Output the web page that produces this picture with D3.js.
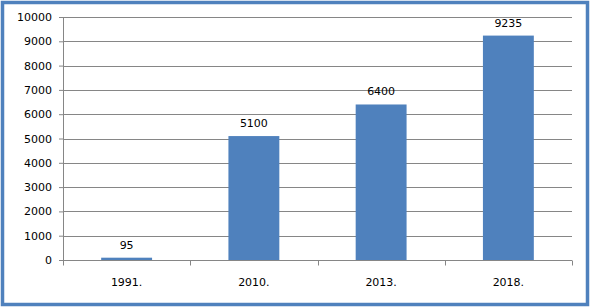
<!DOCTYPE html>
<html>
<head>
<meta charset="utf-8">
<script src="https://cdnjs.cloudflare.com/ajax/libs/d3/7.8.5/d3.min.js"></script>
<style>
  body { margin: 0; background: #fff; }
  text { font-family: "DejaVu Sans", Verdana, sans-serif; font-size: 11px; fill: #000; }
</style>
</head>
<body>
<div id="chart"></div>
<script>
// data
var years = ["1991.", "2010.", "2013.", "2018."];
var values = [95, 5100, 6400, 9235];
var yTicks = [0, 1000, 2000, 3000, 4000, 5000, 6000, 7000, 8000, 9000, 10000];

var svgWidth = 591, svgHeight = 308;
var margin = { top: 17, right: 19, bottom: 48, left: 63 };
var width = svgWidth - margin.left - margin.right;
var height = svgHeight - margin.top - margin.bottom;

var svg = d3.select("#chart")
  .append("svg")
  .attr("width", svgWidth)
  .attr("height", svgHeight);

// blue frame round the chart
svg.append("rect")
  .attr("x", 2.5)
  .attr("y", 2.5)
  .attr("width", 585)
  .attr("height", 302)
  .attr("fill", "none")
  .attr("stroke", "#4F81BD")
  .attr("stroke-width", 3.5);

var chartGroup = svg.append("g")
  .attr("transform", `translate(${margin.left}, ${margin.top})`);

var x = d3.scaleBand()
  .domain(years)
  .range([0, width])
  .paddingInner(0.6)
  .paddingOuter(0.3);

var y = d3.scaleLinear()
  .domain([0, 10000])
  .range([height, 0]);

// gridlines
chartGroup.selectAll(".grid")
  .data(yTicks)
  .enter()
  .append("line")
  .attr("x1", 0)
  .attr("x2", width)
  .attr("y1", d => Math.round(y(d)) + 0.5)
  .attr("y2", d => Math.round(y(d)) + 0.5)
  .attr("stroke", "#868686");

// y axis
var leftAxis = d3.axisLeft(y).tickValues(yTicks).tickSize(4).tickPadding(7).tickFormat(d3.format("d"));
var gy = chartGroup.append("g").call(leftAxis);
gy.select(".domain").attr("stroke", "#868686").attr("d", `M0.5,${height + 0.5}V0`);
gy.selectAll(".tick line").attr("stroke", "#868686");
gy.selectAll("text").attr("fill", "#000").style("font-size", "11px").style("font-family", "DejaVu Sans");

// x axis with ticks at category boundaries
var gx = chartGroup.append("g").attr("transform", `translate(0, ${Math.round(height) + 0.5})`);
gx.append("line").attr("x1", 0).attr("x2", width).attr("stroke", "#868686");
var bounds = d3.range(years.length + 1).map(i => i * x.step());
gx.selectAll(".btick")
  .data(bounds)
  .enter()
  .append("line")
  .attr("x1", d => Math.round(d) + 0.5)
  .attr("x2", d => Math.round(d) + 0.5)
  .attr("y1", 0)
  .attr("y2", 5)
  .attr("stroke", "#868686");
gx.selectAll(".lbl")
  .data(years)
  .enter()
  .append("text")
  .attr("x", d => x(d) + x.bandwidth() / 2)
  .attr("y", 25)
  .attr("text-anchor", "middle")
  .text(d => d);

// bars
chartGroup.selectAll(".bar")
  .data(values)
  .enter()
  .append("rect")
  .attr("x", (d, i) => x(years[i]))
  .attr("y", d => y(d))
  .attr("width", x.bandwidth())
  .attr("height", d => Math.max(height - y(d), 2))
  .attr("fill", "#4F81BD");

// value labels
chartGroup.selectAll(".val")
  .data(values)
  .enter()
  .append("text")
  .attr("x", (d, i) => x(years[i]) + x.bandwidth() / 2)
  .attr("y", d => y(d) - 9)
  .attr("text-anchor", "middle")
  .text(d => d);
</script>
</body>
</html>
